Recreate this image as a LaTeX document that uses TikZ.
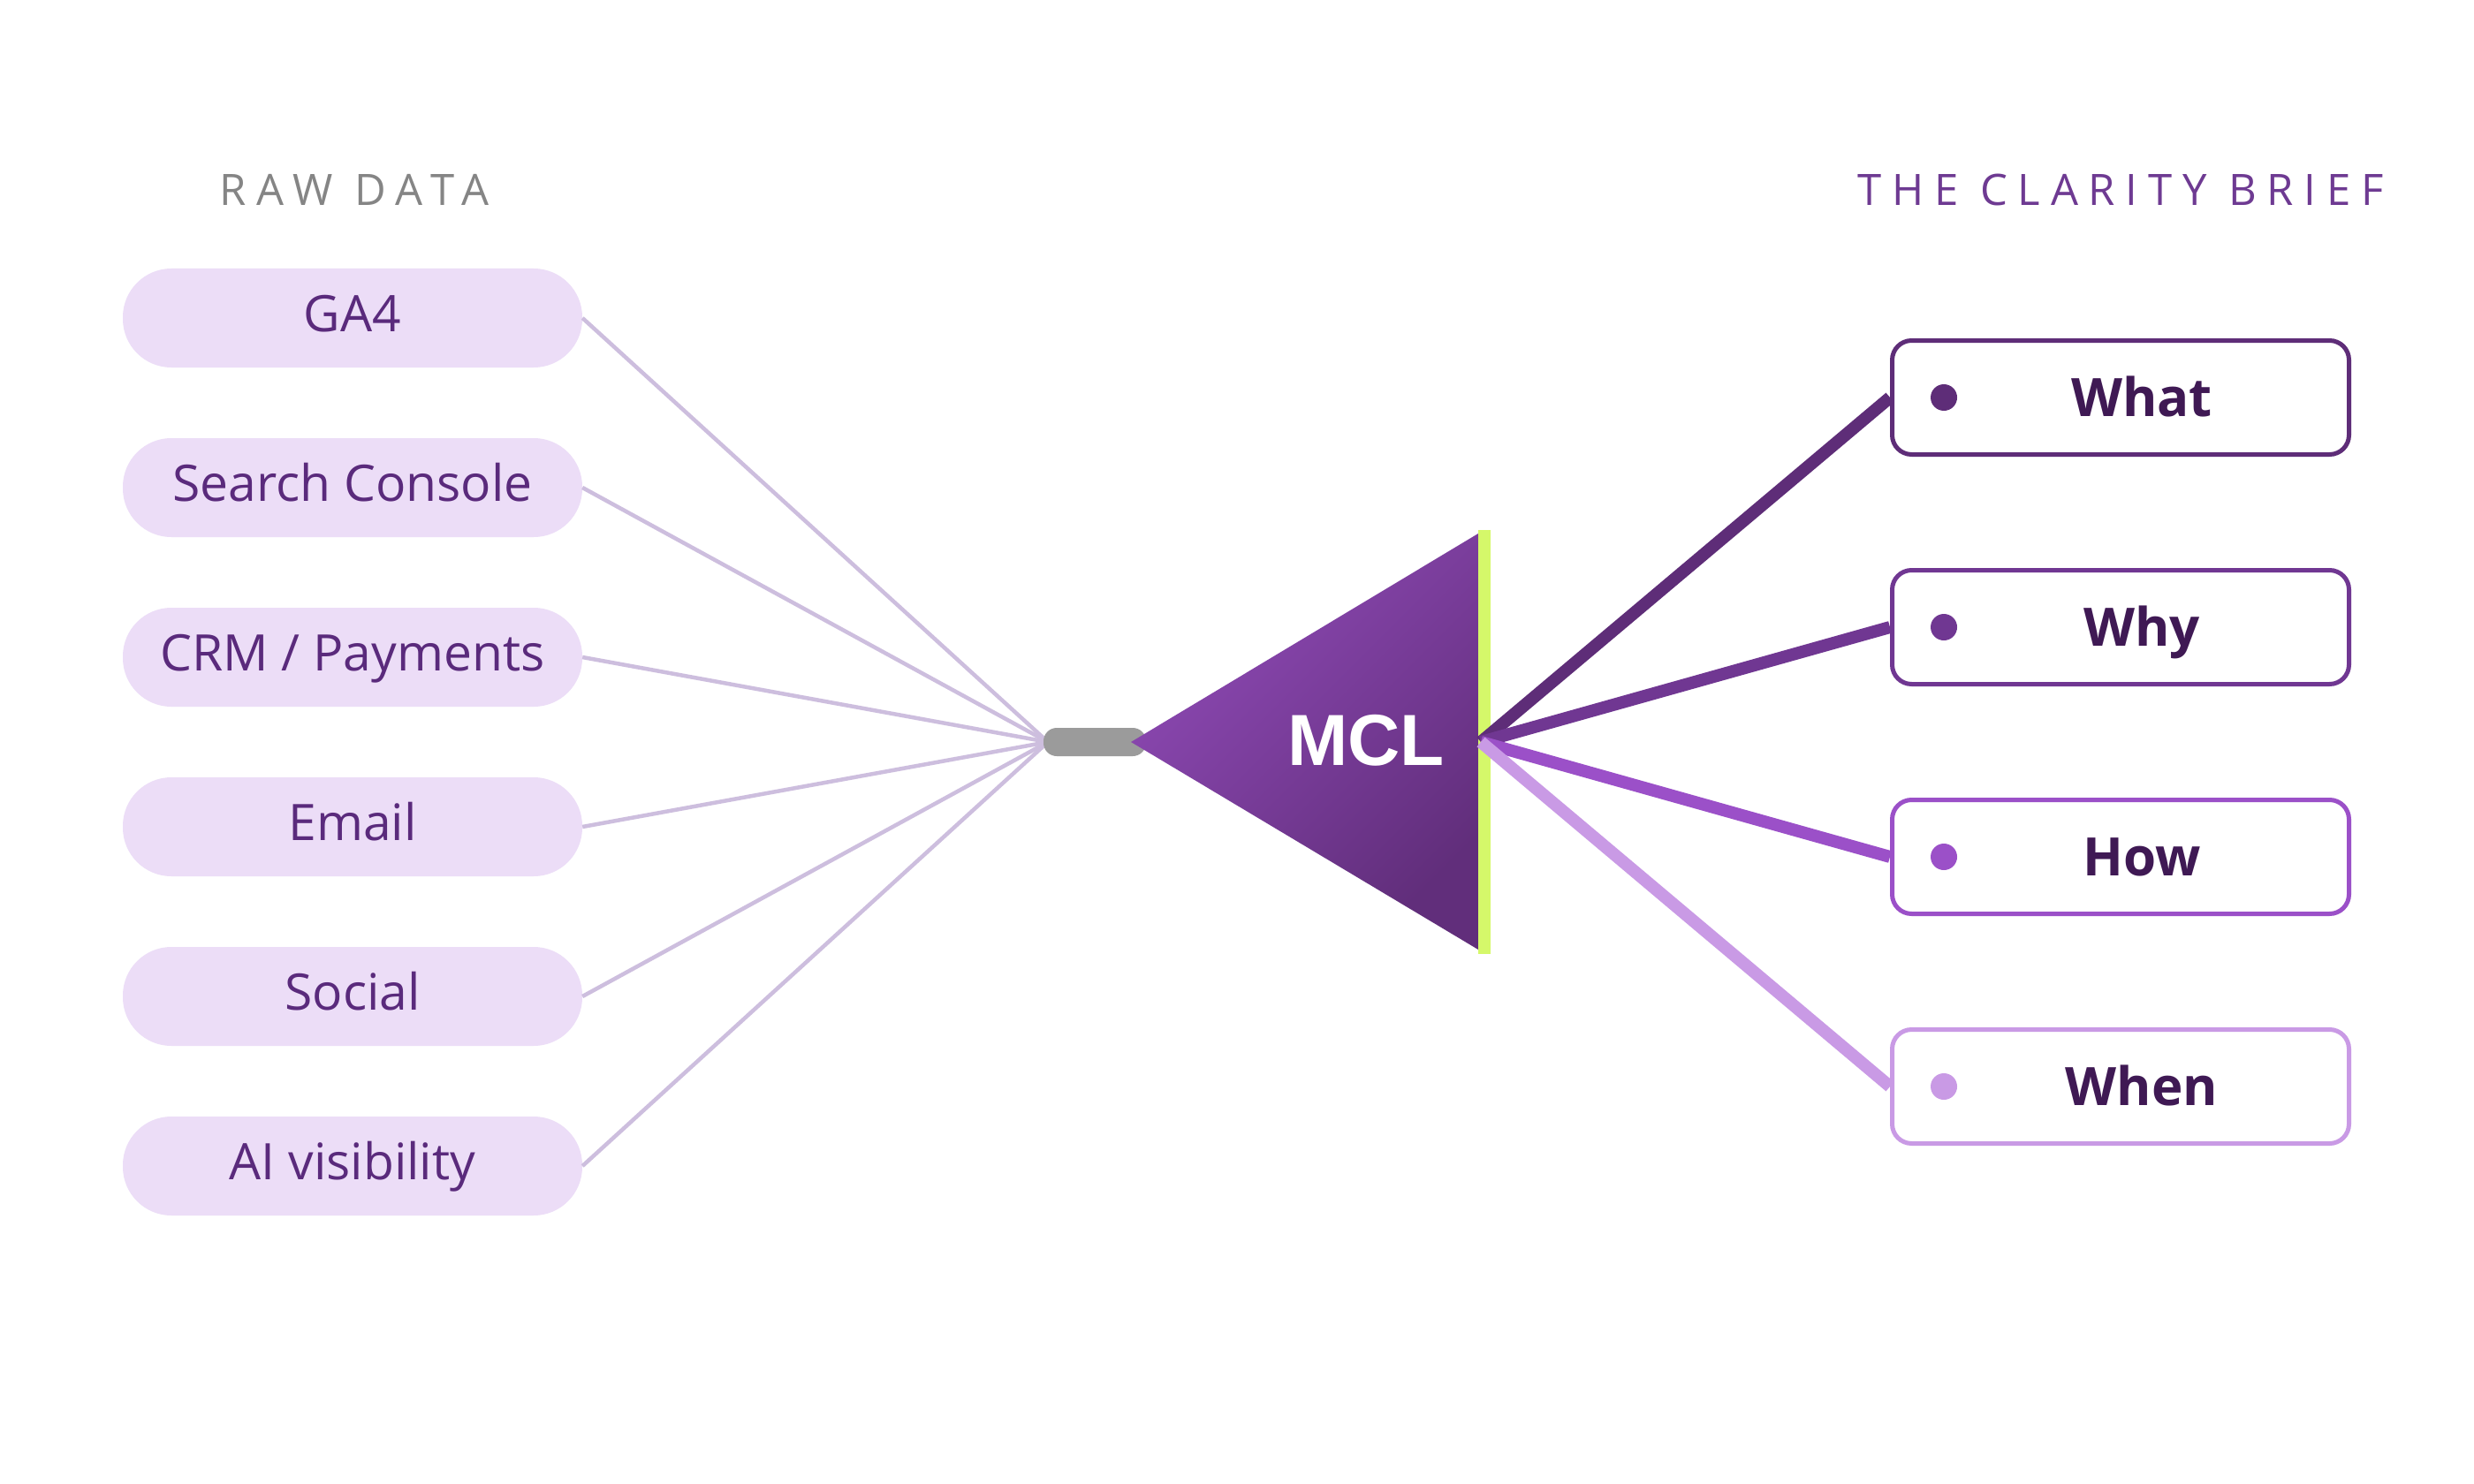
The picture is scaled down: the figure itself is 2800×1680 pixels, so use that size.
\documentclass[tikz,border=0pt]{standalone}
\usepackage{fontspec}
\setmainfont{Open Sans}
\newfontfamily\hdrfont[LetterSpace=24]{Open Sans}
\newfontfamily\mclfont{Liberation Sans}
\definecolor{pillfill}{HTML}{ECDDF7}
\definecolor{pilltext}{HTML}{5A2A7C}
\definecolor{srcline}{HTML}{CDBEDE}
\definecolor{greyconn}{HTML}{9B9B9B}
\definecolor{triLight}{HTML}{8F4AB6}
\definecolor{triDark}{HTML}{612E7B}
\definecolor{lime}{HTML}{D5F86A}
\definecolor{cWhat}{HTML}{5E2D78}
\definecolor{cWhy}{HTML}{703792}
\definecolor{cHow}{HTML}{9B50C8}
\definecolor{cWhen}{HTML}{C99AE5}
\definecolor{brieftext}{HTML}{3F1954}
\definecolor{rawgrey}{HTML}{858585}
\definecolor{clarity}{HTML}{6E3A92}
\tikzset{
  pill/.style={rectangle, rounded corners=55pt, fill=pillfill, minimum width=520pt, minimum height=112pt, inner sep=0pt, text=pilltext, font=\fontsize{57}{64}\selectfont, text height=43pt, text depth=12.5pt},
  srcconn/.style={draw=srcline, line width=4.5pt},
  brief/.style={rectangle, rounded corners=22pt, line width=5pt, fill=white, minimum width=517pt, minimum height=129pt, inner sep=0pt},
  brieflabel/.style={text=brieftext, font=\fontsize{60}{66}\selectfont\bfseries, inner sep=0pt, text height=43pt, text depth=0pt},
  briefdot/.style={circle, minimum size=30pt, inner sep=0pt},
  outconn/.style={line width=14pt},
  header/.style={font=\hdrfont\fontsize{49}{56}\selectfont, inner sep=0pt}
}
\begin{document}
\begin{tikzpicture}[x=1pt,y=-1pt]
\useasboundingbox (0,0) rectangle (2800,1680);
\fill[white] (0,0) rectangle (2800,1680);

% headers
\node[header, text=rawgrey] (rawhdr) at (401,215) {RAW DATA};
\node[header, text=clarity] (clarhdr) at (2400,215) {THE CLARITY BRIEF};

% hubs
\coordinate (hubL) at (1186,840);
\coordinate (hubR) at (1676,840);

% source pills
\node[pill] (ga4) at (399,360) {GA4};
\node[pill] (gsc) at (399,552) {Search Console};
\node[pill] (crm) at (399,744) {CRM / Payments};
\node[pill] (email) at (399,936) {Email};
\node[pill] (social) at (399,1128) {Social};
\node[pill] (ai) at (399,1320) {AI visibility};

\foreach \s in {ga4,gsc,crm,email,social,ai}{
  \draw[srcconn] (\s.east) -- (hubL);
}

% connector pill
\node[rectangle, rounded corners=15pt, fill=greyconn, minimum width=116pt, minimum height=32pt, inner sep=0pt] (conn) at (1239,840) {};

% MCL triangle
\shade[top color=triLight, bottom color=triDark, shading angle=45] (1280,840) -- (1673,604) -- (1673,1075) -- cycle;
\node[text=white, font=\mclfont\fontsize{82}{86}\selectfont\bfseries, inner sep=0pt] (mcl) at (1546,838) {MCL};
\fill[lime] (1673,600) rectangle (1687,1080);

% brief boxes
\node[brief, draw=cWhat] (what) at (2400,450) {};
\node[brief, draw=cWhy] (why) at (2400,710) {};
\node[brief, draw=cHow] (how) at (2400,970) {};
\node[brief, draw=cWhen] (when) at (2400,1230) {};

\draw[outconn, cWhat] (hubR) -- (what.west);
\draw[outconn, cWhy] (hubR) -- (why.west);
\draw[outconn, cHow] (hubR) -- (how.west);
\draw[outconn, cWhen] (hubR) -- (when.west);

\node[briefdot, fill=cWhat] (whatdot) at (2200,450) {};
\node[briefdot, fill=cWhy] (whydot) at (2200,710) {};
\node[briefdot, fill=cHow] (howdot) at (2200,970) {};
\node[briefdot, fill=cWhen] (whendot) at (2200,1230) {};

\node[brieflabel] (whatT) at (2424,450) {What};
\node[brieflabel] (whyT) at (2424,710) {Why};
\node[brieflabel] (howT) at (2424,970) {How};
\node[brieflabel] (whenT) at (2424,1230) {When};
\end{tikzpicture}
\end{document}
